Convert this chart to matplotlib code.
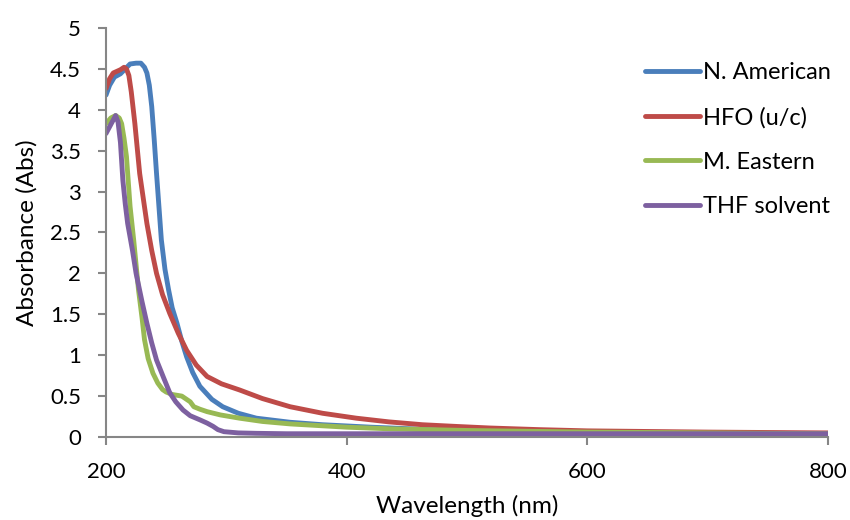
import matplotlib.pyplot as plt

plt.rcParams['font.family'] = ['Lato', 'DejaVu Sans']

# wavelength (nm) / absorbance
na_x = [200, 203, 207, 212, 216, 220, 225, 229, 232, 234, 236, 238, 240, 242, 246,
        249, 252, 255, 259, 263, 267, 272, 278, 288, 297, 310, 325, 353, 380, 420,
        470, 550, 650, 800]
na_y = [4.18, 4.30, 4.40, 4.44, 4.50, 4.56, 4.57, 4.57, 4.52, 4.45, 4.30, 4.04, 3.65,
        3.22, 2.41, 2.05, 1.80, 1.58, 1.39, 1.17, 0.98, 0.79, 0.62, 0.46, 0.37, 0.29,
        0.23, 0.18, 0.15, 0.12, 0.09, 0.07, 0.05, 0.04]

hfo_x = [200, 203, 206, 209, 212, 215, 217, 219, 221, 224, 228, 234, 238, 242, 247,
         253, 260, 267, 275, 284, 296, 311, 330, 353, 380, 408, 435, 463, 490, 519,
         560, 600, 700, 800]
hfo_y = [4.26, 4.38, 4.45, 4.47, 4.49, 4.52, 4.50, 4.42, 4.22, 3.83, 3.22, 2.61, 2.28,
         2.00, 1.74, 1.51, 1.27, 1.06, 0.88, 0.74, 0.65, 0.575, 0.47, 0.37, 0.29,
         0.23, 0.185, 0.15, 0.13, 0.11, 0.09, 0.075, 0.06, 0.05]

me_x = [200, 204, 208, 211, 213, 215, 217, 220, 223, 227, 230, 232, 235, 239, 243,
        247, 250, 255, 259, 263, 267, 270, 273, 278, 284, 295, 311, 330, 353, 400,
        436, 500, 600, 800]
me_y = [3.83, 3.90, 3.93, 3.90, 3.83, 3.65, 3.43, 2.82, 2.41, 1.80, 1.45, 1.19, 0.96,
        0.78, 0.66, 0.58, 0.55, 0.52, 0.51, 0.50, 0.46, 0.43, 0.37, 0.34, 0.31, 0.27,
        0.23, 0.19, 0.16, 0.12, 0.10, 0.08, 0.06, 0.04]

thf_x = [200, 204, 208, 210, 212, 214, 216, 218, 222, 225, 230, 234, 238, 242, 248,
         253, 258, 264, 270, 278, 284, 289, 293, 298, 310, 325, 350, 400, 500, 600,
         800]
thf_y = [3.71, 3.82, 3.93, 3.85, 3.60, 3.14, 2.85, 2.61, 2.28, 2.00, 1.65, 1.39, 1.15,
         0.94, 0.72, 0.54, 0.43, 0.33, 0.26, 0.21, 0.17, 0.13, 0.09, 0.065, 0.05,
         0.045, 0.04, 0.04, 0.04, 0.04, 0.04]

labels = ['N. American', 'HFO (u/c)', 'M. Eastern', 'THF solvent']
colors = ['#4A7EBB', '#BE4B48', '#98B954', '#7D60A0']

fig = plt.figure(figsize=(8.5, 5.2), dpi=100)
ax = fig.add_axes([106 / 850, 1 - 437 / 520, 722 / 850, 409 / 520])

series = [(na_x, na_y), (hfo_x, hfo_y), (me_x, me_y), (thf_x, thf_y)]
for (xs, ys), lab, c in zip(series, labels, colors):
    ax.plot(xs, ys, color=c, lw=3.5, label=lab, solid_capstyle='round',
            solid_joinstyle='round')

ax.set_xlim(200, 800)
ax.set_ylim(0, 5)
ax.set_xticks([200, 400, 600, 800])
ax.set_yticks([0, 0.5, 1, 1.5, 2, 2.5, 3, 3.5, 4, 4.5, 5])
ax.set_yticklabels(['0', '0.5', '1', '1.5', '2', '2.5', '3', '3.5', '4', '4.5', '5'])

for s in ['top', 'right']:
    ax.spines[s].set_visible(False)
for s in ['left', 'bottom']:
    ax.spines[s].set_color('#868686')
    ax.spines[s].set_linewidth(1.5)
ax.tick_params(axis='both', colors='#868686', labelcolor='black', labelsize=16,
               length=6, width=1.5, direction='out')
ax.tick_params(axis='x', pad=12)
ax.tick_params(axis='y', pad=12)

ax.set_xlabel('Wavelength (nm)', fontsize=17.5, labelpad=9)
ax.set_ylabel('Absorbance (Abs)', fontsize=17.5, labelpad=9)

ax.legend(loc='upper left', bbox_to_anchor=(645 / 850, 1 - 62 / 520),
          bbox_transform=fig.transFigure, frameon=False, fontsize=17,
          borderpad=0, borderaxespad=0, handlelength=2.33, handletextpad=0.13,
          labelspacing=1.0)

fig.savefig('out.png', dpi=100)
